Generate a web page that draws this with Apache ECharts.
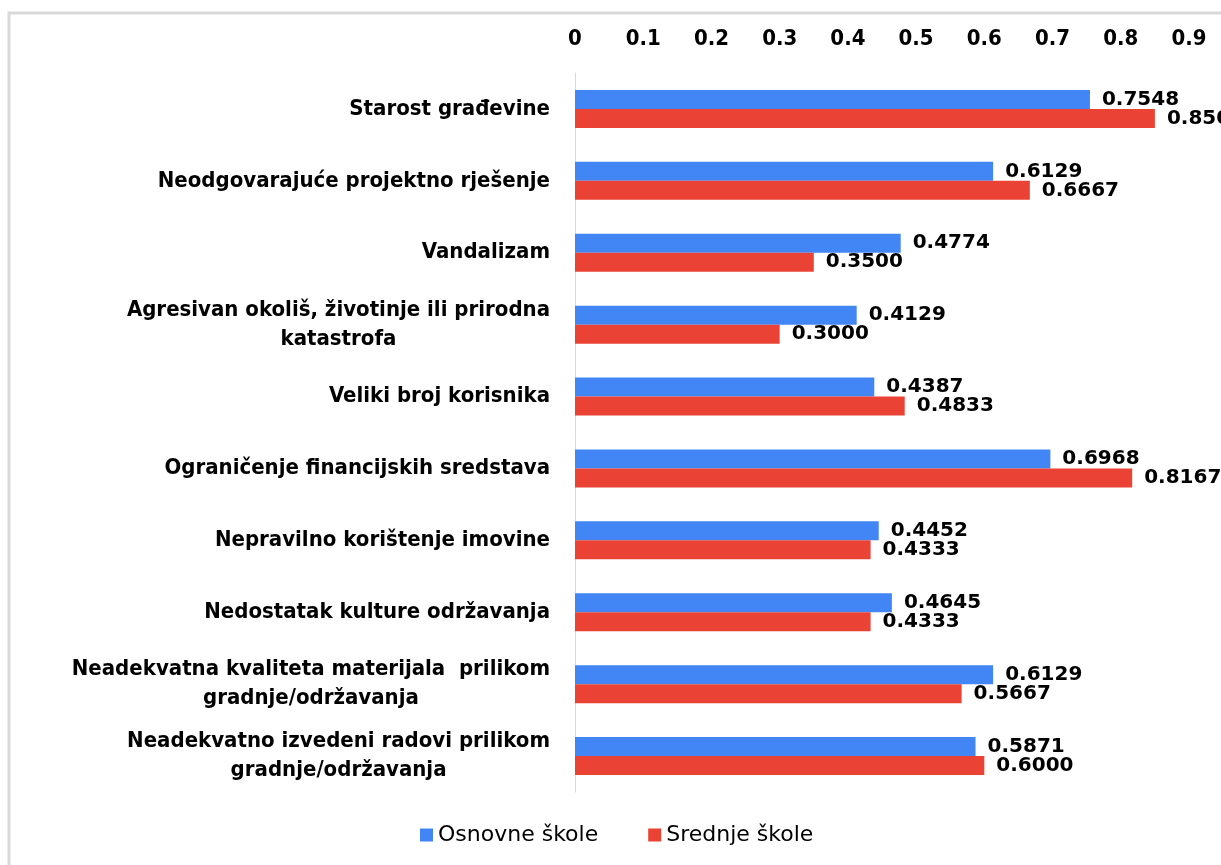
<!DOCTYPE html>
<html>
<head>
<meta charset="utf-8">
<style>
    html, body {
        margin: 0;
        padding: 0;
        background: #fff;
    }
    #chart {
        width: 1221px;
        height: 865px;
    }
</style>
<script src="https://cdn.jsdelivr.net/npm/echarts@6/dist/echarts.min.js"></script>
</head>
<body>
<div id="chart"></div>
<script>
const categories = [
    'Starost građevine',
    'Neodgovarajuće projektno rješenje',
    'Vandalizam',
    'Agresivan okoliš, životinje ili prirodna\nkatastrofa',
    'Veliki broj korisnika',
    'Ograničenje financijskih sredstava',
    'Nepravilno korištenje imovine',
    'Nedostatak kulture održavanja',
    'Neadekvatna kvaliteta materijala  prilikom\ngradnje/održavanja',
    'Neadekvatno izvedeni radovi prilikom\ngradnje/održavanja'
];
const osnovne = [0.7548, 0.6129, 0.4774, 0.4129, 0.4387, 0.6968, 0.4452, 0.4645, 0.6129, 0.5871];
const srednje = [0.8500, 0.6667, 0.3500, 0.3000, 0.4833, 0.8167, 0.4333, 0.4333, 0.5667, 0.6000];
const seriesNames = ['Osnovne škole', 'Srednje škole'];

const fontFamily = '"DejaVu Sans", sans-serif';
const condensed = '"DejaVu Sans Condensed", "DejaVu Sans", sans-serif';

const chart = echarts.init(document.getElementById('chart'));

function valueLabel() {
    return {
        show: true,
        position: 'right',
        distance: 12,
        color: '#000',
        fontFamily: fontFamily,
        fontWeight: 'bold',
        fontSize: 20,
        formatter: p => p.value.toFixed(4)
    };
}

chart.setOption({
    animation: false,
    textStyle: { fontFamily: fontFamily },
    color: ['#4285f4', '#ea4335'],
    graphic: [
        {
            type: 'rect',
            shape: { x: 9, y: 13, width: 1400, height: 1000 },
            style: { fill: 'none', stroke: '#d9d9d9', lineWidth: 3 },
            silent: true
        }
    ],
    grid: {
        left: 575,
        top: 73,
        bottom: 73,
        right: 32,
        outerBoundsMode: 'none'
    },
    legend: {
        bottom: 14,
        left: 415,
        itemWidth: 13,
        itemHeight: 13,
        itemGap: 50,
        icon: 'rect',
        textStyle: {
            color: '#000',
            fontSize: 22,
            fontFamily: fontFamily
        },
        data: seriesNames
    },
    xAxis: {
        type: 'value',
        position: 'top',
        min: 0,
        max: 0.9,
        interval: 0.1,
        axisLine: { show: false },
        axisTick: { show: false },
        splitLine: { show: false },
        axisLabel: {
            color: '#000',
            fontFamily: condensed,
            fontSize: 22,
            fontWeight: 'bold',
            margin: 23
        }
    },
    yAxis: {
        type: 'category',
        inverse: true,
        data: categories,
        axisLine: { lineStyle: { color: '#d9d9d9', width: 1 } },
        axisTick: { show: false },
        axisLabel: {
            color: '#000',
            fontFamily: condensed,
            fontSize: 22,
            fontWeight: 'bold',
            margin: 25,
            align: 'right',
            lineHeight: 29,
            formatter: v => v.split('\n').map(s => '{c|' + s + '}').join('\n'),
            rich: {
                c: {
                    align: 'center',
                    color: '#000',
                    fontFamily: condensed,
                    fontSize: 22,
                    fontWeight: 'bold',
                    lineHeight: 29
                }
            }
        }
    },
    series: [
        {
            name: seriesNames[0],
            type: 'bar',
            barWidth: 19,
            barGap: '0%',
            data: osnovne,
            label: valueLabel()
        },
        {
            name: seriesNames[1],
            type: 'bar',
            barWidth: 19,
            barGap: '0%',
            data: srednje,
            label: valueLabel()
        }
    ]
});
</script>
</body>
</html>
